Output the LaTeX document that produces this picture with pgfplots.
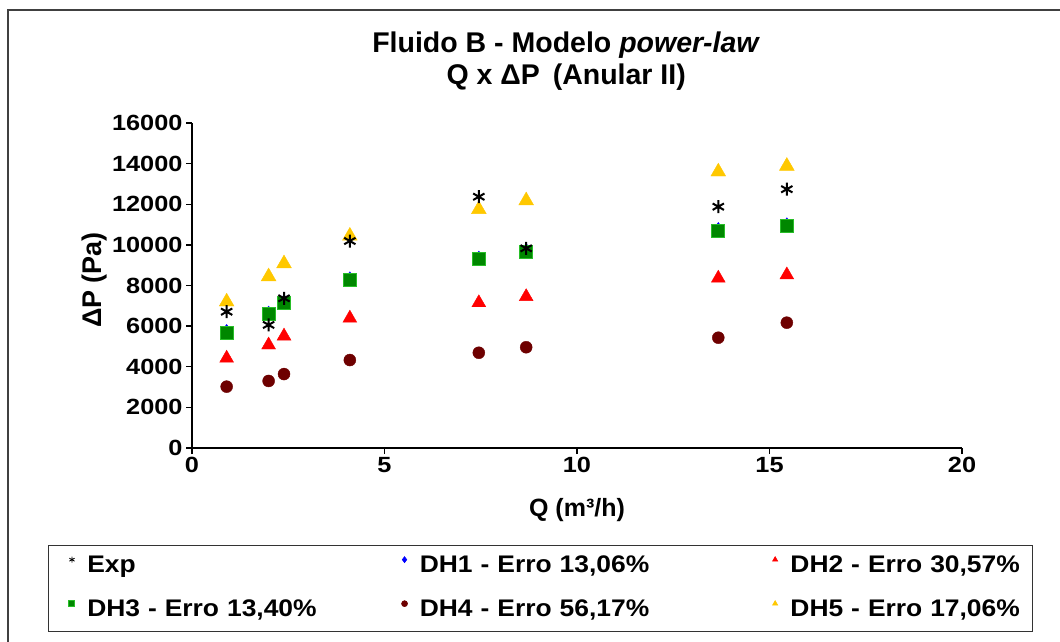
\documentclass[border=0pt]{standalone}
\usepackage{fontspec}
\setmainfont{Liberation Sans}
\newfontfamily\legfont[FakeStretch=1.1]{Liberation Sans}
\newfontfamily\tickfont[FakeStretch=1.15]{Liberation Sans}
\usepackage{pgfplots}
\pgfplotsset{compat=1.18}
\definecolor{dhgold}{RGB}{255,200,0}
\definecolor{dhmaroon}{RGB}{110,0,0}
\definecolor{dhgreen}{RGB}{0,135,0}
\definecolor{dhgreenl}{RGB}{40,190,40}

\pgfplotstableread{
x y
0.90 6710
1.99 6060
2.39 7370
4.10 10190
7.45 12370
8.68 9830
13.67 11880
15.45 12740
}\expdata
\pgfplotstableread{
x y
0.90 5740
1.99 6640
2.39 7210
4.10 8330
7.45 9350
8.68 9730
13.67 10760
15.45 10990
}\dhone
\pgfplotstableread{
x y
0.90 4420
1.99 5070
2.39 5510
4.10 6390
7.45 7150
8.68 7450
13.67 8360
15.45 8520
}\dhtwo
\pgfplotstableread{
x y
0.90 5680
1.99 6580
2.39 7150
4.10 8270
7.45 9290
8.68 9670
13.67 10700
15.45 10930
}\dhthree
\pgfplotstableread{
x y
0.90 3020
1.99 3300
2.39 3640
4.10 4330
7.45 4690
8.68 4960
13.67 5430
15.45 6170
}\dhfour
\pgfplotstableread{
x y
0.90 7200
1.99 8440
2.39 9080
4.10 10440
7.45 11750
8.68 12180
13.67 13600
15.45 13880
}\dhfive

\begin{document}
\begin{tikzpicture}
\useasboundingbox (0pt,0pt) rectangle (1060pt,641pt);
\fill[white] (0pt,0pt) rectangle (1060pt,641pt);
\draw[line width=2pt, black!75] (8pt,-20pt) -- (8pt,631pt) -- (1090pt,631pt);
\begin{axis}[
  at={(192pt,193pt)}, anchor=south west,
  scale only axis, width=770pt, height=325pt,
  xmin=0, xmax=20, ymin=0, ymax=16000,
  axis x line=bottom, axis y line=left,
  axis line style={-, line width=1.3pt, black},
  xtick={0,5,...,20}, ytick={0,2000,...,16000},
  scaled y ticks=false,
  tick align=outside, major tick length=6pt,
  tick style={line width=1.3pt, black},
  minor tick num=0,
  /pgf/number format/1000 sep={},
  /pgf/number format/assume math mode=true,
  ticklabel style={font=\tickfont\bfseries\fontsize{22}{24}\selectfont},
  clip=false,
  xlabel={Q (m³/h)},
  ylabel={ΔP (Pa)},
  every axis x label/.style={at={(axis description cs:0.5,-0.19)}, anchor=center, font=\bfseries\fontsize{25}{28}\selectfont},
  every axis y label/.style={at={(axis description cs:-0.126,0.517)}, rotate=90, anchor=center, font=\bfseries\fontsize{27}{30}\selectfont},
  legend columns=3,
  legend image code/.code={\path (-18pt,0pt) (12pt,0pt); \draw[#1] plot coordinates {(0pt,7pt)};},
  legend image post style={mark size=3pt, line width=0.6pt},
  legend style={at={(axis description cs:-0.187,-0.2985)}, anchor=north west,
    draw=black!80, line width=1.3pt, inner xsep=5pt, inner ysep=10pt,
    column sep=0pt, row sep=22pt,
    font=\legfont\bfseries\fontsize{24}{27}\selectfont,
    nodes={text height=17pt, text depth=5pt, inner ysep=0pt, inner xsep=3pt, align=left}},
  legend cell align=left,
]
\addlegendimage{only marks, mark=asterisk, black, mark options={line width=0.8pt}}
\addlegendentry[text width=296pt]{Exp}
\addplot[only marks, mark=diamond*, mark size=7pt, color=blue] table {\dhone};
\addlegendentry[text width=334pt]{DH1 - Erro 13,06\%}
\addplot[only marks, mark=triangle*, mark size=8pt, color=red] table {\dhtwo};
\addlegendentry[text width=234pt]{DH2 - Erro 30,57\%}
\addplot[only marks, mark=square*, mark size=6.5pt, mark options={fill=dhgreen, draw=dhgreenl, line width=1pt}] table {\dhthree};
\addlegendentry[text width=296pt]{DH3 - Erro 13,40\%}
\addplot[only marks, mark=*, mark size=6pt, color=dhmaroon] table {\dhfour};
\addlegendentry[text width=334pt]{DH4 - Erro 56,17\%}
\addplot[only marks, mark=triangle*, mark size=8.5pt, color=dhgold] table {\dhfive};
\addlegendentry[text width=234pt]{DH5 - Erro 17,06\%}
\addplot[only marks, mark=asterisk, mark size=6.5pt, black, mark options={line width=2pt}, forget plot] table {\expdata};
\node[anchor=base, font=\bfseries\fontsize{28.5}{32}\selectfont] at (axis description cs:0.486,1) [yshift=70pt] {Fluido B - Modelo \textit{power-law}};
\node[anchor=base, font=\bfseries\fontsize{28.5}{32}\selectfont] at (axis description cs:0.486,1) [yshift=38pt] {Q x ΔP\hspace{0.45em}(Anular II)};
\end{axis}
\end{tikzpicture}
\end{document}
